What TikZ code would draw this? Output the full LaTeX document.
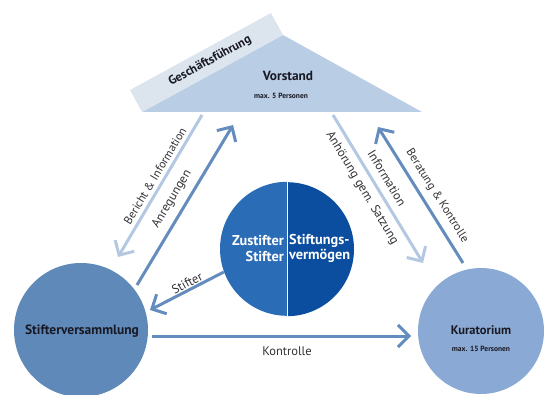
\documentclass[tikz,border=0pt]{standalone}
\usepackage{fontspec}
\setmainfont{PT Sans}
\usetikzlibrary{arrows.meta}
\definecolor{medblue}{RGB}{100,140,190}
\definecolor{lightarr}{RGB}{180,200,225}
\definecolor{svblue}{RGB}{95,137,185}
\definecolor{kublue}{RGB}{138,170,213}
\definecolor{trifill}{RGB}{185,205,229}
\definecolor{bandfill}{RGB}{220,228,238}
\definecolor{cleft}{RGB}{42,108,182}
\definecolor{cright}{RGB}{11,77,158}
\definecolor{lbltext}{RGB}{50,50,55}
\definecolor{darktext}{RGB}{25,25,35}
\begin{document}
\begin{tikzpicture}[x=1pt,y=1pt,
  arrmed/.style={draw=medblue, line width=3pt, -{Straight Barb[length=11pt,width=22pt]}},
  arrlight/.style={draw=lightarr, line width=3pt, -{Straight Barb[length=11pt,width=22pt]}},
  lbl/.style={font=\fontsize{12.5}{14}\selectfont, text=lbltext, inner sep=0pt},
  lblamp/.style={font=\fontsize{11.7}{14}\selectfont, text=lbltext, inner sep=0pt},
  bigname/.style={font=\fontsize{12.5}{14}\selectfont\bfseries, text=darktext, inner sep=0pt},
  smallname/.style={font=\fontsize{7.5}{9}\selectfont\bfseries, text=darktext, inner sep=0pt},
  ctext/.style={font=\fontsize{14.3}{16}\selectfont\bfseries, text=white, inner sep=0pt},
  disc/.style={circle, inner sep=0pt, draw=none}]
\useasboundingbox (0,0) rectangle (548,394);
% Vorstand triangle and Geschaeftsfuehrung band
\coordinate (tl) at (142,282);
\coordinate (tapex) at (283,359);
\coordinate (tr) at (422,282);
\coordinate (bt) at (271,381);
\coordinate (bl) at (130,304);
\fill[trifill] (tl) -- (tapex) -- (tr) -- cycle;
\fill[bandfill] (tl) -- (tapex) -- (bt) -- (bl) -- cycle;
\node[font=\fontsize{12.3}{14}\selectfont\bfseries, text=darktext, rotate=28.6, inner sep=0pt] (gf) at (210,333) {Geschäftsführung};
\node[bigname, font=\fontsize{13.3}{15}\selectfont\bfseries] (vs) at (288,318) {Vorstand};
\node[smallname] (vsmax) at (281,298) {max. 5 Personen};
% circles
\node[disc, fill=svblue, minimum size=134pt] (sv) at (81,64) {};
\node[disc, fill=kublue, minimum size=126pt] (ku) at (481,63) {};
\node[disc, minimum size=134pt] (cc) at (287,145) {};
\fill[cleft] (cc.north) arc[start angle=90, end angle=270, radius=67pt] -- cycle;
\fill[cright] (cc.south) arc[start angle=-90, end angle=90, radius=67pt] -- cycle;
\draw[white, line width=0.8pt] (cc.north) -- (cc.south);
\node[bigname, font=\fontsize{13.5}{15}\selectfont\bfseries] (svt) at (82,63) {Stifterversammlung};
\node[bigname] (kut) at (481,64) {Kuratorium};
\node[smallname] (kumax) at (481,45) {max. 15 Personen};
\node[ctext, anchor=east] (z1) at (284,153) {Zustifter};
\node[ctext, anchor=east] (z2) at (284,138) {Stifter};
\node[ctext, anchor=west] (s1) at (289,153) {Stiftungs-};
\node[ctext, anchor=west] (s2) at (289,138) {vermögen};
% arrow end points
\coordinate (b1) at (202,279);
\coordinate (b2) at (118,137);
\coordinate (a1) at (137,109);
\coordinate (a2) at (233,269);
\coordinate (st2) at (150,84);
\coordinate (k1) at (152,58);
\coordinate (k2) at (411,58);
\coordinate (i1) at (333,279);
\coordinate (i2) at (423,131);
\coordinate (r1) at (463,131);
\coordinate (r2) at (378,267);
% arrows
\draw[arrlight] (b1) -- (b2);
\draw[arrmed] (a1) -- (a2);
\draw[arrmed] (cc.200) -- (st2);
\draw[arrmed] (k1) -- (k2);
\draw[arrlight] (i1) -- (i2);
\draw[arrmed] (r1) -- (r2);
% labels
\node[lblamp, rotate=59] (lb1) at (155,218) {Bericht \& Information};
\node[lbl, rotate=59] (lb2) at (172,195) {Anregungen};
\node[lbl, rotate=27.5] (lb3) at (187,111) {Stifter};
\node[lbl] (lb4) at (287,43) {Kontrolle};
\node[lbl, rotate=-59] (lb5) at (362,206) {Anhörung gem. Satzung};
\node[lbl, rotate=-59] (lb6) at (387,216) {Information};
\node[lblamp, rotate=-58] (lb7) at (437,198) {Beratung \& Kontrolle};
\end{tikzpicture}
\end{document}
